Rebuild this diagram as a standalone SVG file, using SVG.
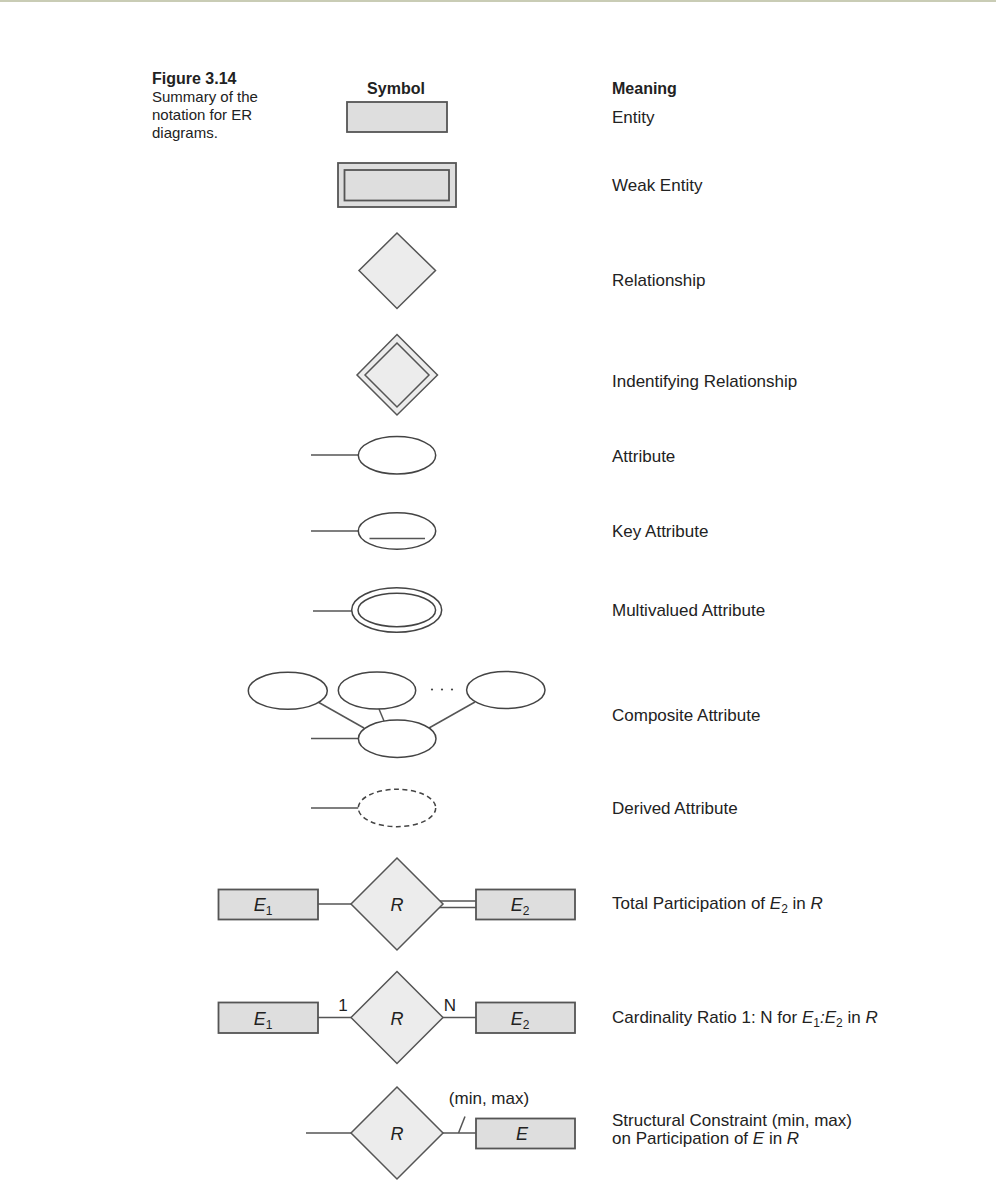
<svg xmlns="http://www.w3.org/2000/svg" width="996" height="1198" viewBox="0 0 996 1198">
<defs>
<style>
.ln{stroke:#555;stroke-width:1.5;fill:none}
.ent{fill:#dedede;stroke:#555;stroke-width:1.8}
.rel{fill:#ececec;stroke:#555;stroke-width:1.5}
.att{fill:#fff;stroke:#444;stroke-width:1.5}
.dash{fill:#fff;stroke:#444;stroke-width:1.5;stroke-dasharray:5 3.5}
text{font-family:"Liberation Sans",Arial,sans-serif;fill:#222}
.m{font-size:17px}
.n{font-size:17px}
.cap{font-size:15px}
.hd{font-size:16px;font-weight:bold}
.lab{font-size:18px;font-style:italic;text-anchor:middle}
.sub{font-size:12px}
</style>
</defs>
<rect x="0" y="0" width="996" height="2" fill="#c9ccb5"/>
<g id="caption">
<text x="152" y="84" class="hd">Figure 3.14</text>
<text x="152" y="102" class="cap">Summary of the</text>
<text x="152" y="120" class="cap">notation for ER</text>
<text x="152" y="138" class="cap">diagrams.</text>
</g>
<g id="headers">
<text x="396" y="94" class="hd" text-anchor="middle">Symbol</text>
<text x="612" y="94" class="hd">Meaning</text>
</g>
<g id="connectors">
<line class="ln" x1="311" y1="455" x2="358" y2="455"/>
<line class="ln" x1="311" y1="531" x2="358" y2="531"/>
<line class="ln" x1="313" y1="611" x2="352" y2="611"/>
<line class="ln" x1="318" y1="702" x2="364" y2="728"/>
<line class="ln" x1="379" y1="709" x2="384" y2="721"/>
<line class="ln" x1="475" y1="702" x2="429" y2="728"/>
<line class="ln" x1="311" y1="738.5" x2="358.5" y2="738.5"/>
<line class="ln" x1="311" y1="808" x2="358.5" y2="808"/>
<line class="ln" x1="318" y1="904" x2="351" y2="904"/>
<line class="ln" x1="439" y1="901" x2="476" y2="901"/>
<line class="ln" x1="439" y1="907.5" x2="476" y2="907.5"/>
<line class="ln" x1="318" y1="1017.5" x2="351" y2="1017.5"/>
<line class="ln" x1="443" y1="1017.5" x2="476" y2="1017.5"/>
<line class="ln" x1="306" y1="1133" x2="351" y2="1133"/>
<line class="ln" x1="443" y1="1133" x2="476" y2="1133"/>
<line class="ln" x1="458.5" y1="1133" x2="465" y2="1116.5"/>
</g>
<g id="entity"><rect class="ent" x="347" y="102" width="100" height="30"/></g>
<g id="weak-entity"><rect class="ent" x="338" y="163" width="118" height="44"/><rect class="ent" x="344.5" y="170" width="104.5" height="30.5"/></g>
<g id="relationship"><polygon class="rel" points="397,233 435.5,270.5 397,308.5 359,270.5"/></g>
<g id="identifying-relationship"><polygon class="rel" points="397,334.5 437.5,375 397,415 357,375"/><polygon class="rel" points="397,343 429,375 397,407 365,375"/></g>
<g id="attribute"><ellipse class="att" cx="397" cy="455.3" rx="38.7" ry="18.7"/></g>
<g id="key-attribute"><ellipse class="att" cx="397" cy="531" rx="38.7" ry="18.3"/><line class="ln" x1="369.5" y1="538.5" x2="425" y2="538.5"/></g>
<g id="multivalued-attribute"><ellipse class="att" cx="396.7" cy="610" rx="45" ry="22.3"/><ellipse class="att" cx="396.8" cy="610" rx="38.8" ry="16.7"/></g>
<g id="composite-attribute">
<ellipse class="att" cx="287.8" cy="690.8" rx="39.5" ry="18.5"/>
<ellipse class="att" cx="377" cy="690.5" rx="38.7" ry="18.5"/>
<ellipse class="att" cx="505.8" cy="690" rx="39.2" ry="18.5"/>
<ellipse class="att" cx="397.2" cy="738.7" rx="38.8" ry="18.7"/>
<circle cx="432" cy="689.5" r="1.1" fill="#444"/><circle cx="442" cy="689.5" r="1.1" fill="#444"/><circle cx="452" cy="689.5" r="1.1" fill="#444"/>
</g>
<g id="derived-attribute"><ellipse class="dash" cx="397" cy="808" rx="38.7" ry="18.7"/></g>
<g id="total-participation">
<rect class="ent" x="218.5" y="889.5" width="99.5" height="30"/>
<polygon class="rel" points="397,858 443,904 397,950 351,904"/>
<rect class="ent" x="476" y="889.5" width="99" height="30"/>
<text x="263" y="911" class="lab">E<tspan class="sub" dy="4" font-style="normal">1</tspan></text>
<text x="397" y="911" class="lab">R</text>
<text x="520" y="911" class="lab">E<tspan class="sub" dy="4" font-style="normal">2</tspan></text>
</g>
<g id="cardinality">
<rect class="ent" x="218.5" y="1002.5" width="99.5" height="30.5"/>
<polygon class="rel" points="397,971.5 443,1017.5 397,1063.5 351,1017.5"/>
<rect class="ent" x="476" y="1002.5" width="99" height="30.5"/>
<text x="263" y="1024.5" class="lab">E<tspan class="sub" dy="4" font-style="normal">1</tspan></text>
<text x="397" y="1024.5" class="lab">R</text>
<text x="520" y="1024.5" class="lab">E<tspan class="sub" dy="4" font-style="normal">2</tspan></text>
<text x="343" y="1011" class="n" text-anchor="middle">1</text>
<text x="450" y="1011" class="n" text-anchor="middle">N</text>
</g>
<g id="structural-constraint">
<polygon class="rel" points="397,1087 443,1133 397,1179 351,1133"/>
<rect class="ent" x="476" y="1118.5" width="99" height="30"/>
<text x="397" y="1140" class="lab">R</text>
<text x="522" y="1140" class="lab">E</text>
<text x="489" y="1104" class="n" text-anchor="middle">(min, max)</text>
</g>
<g id="meanings">
<text x="612" y="123" class="m">Entity</text>
<text x="612" y="191" class="m">Weak Entity</text>
<text x="612" y="286" class="m">Relationship</text>
<text x="612" y="387" class="m">Indentifying Relationship</text>
<text x="612" y="462" class="m">Attribute</text>
<text x="612" y="537" class="m">Key Attribute</text>
<text x="612" y="616" class="m">Multivalued Attribute</text>
<text x="612" y="721" class="m">Composite Attribute</text>
<text x="612" y="814" class="m">Derived Attribute</text>
<text x="612" y="909" class="m">Total Participation of <tspan font-style="italic">E</tspan><tspan class="sub" dy="4">2</tspan><tspan dy="-4"> in </tspan><tspan font-style="italic">R</tspan></text>
<text x="612" y="1023" class="m">Cardinality Ratio 1: N for <tspan font-style="italic">E</tspan><tspan class="sub" dy="4">1</tspan><tspan dy="-4" font-style="italic">:E</tspan><tspan class="sub" dy="4">2</tspan><tspan dy="-4"> in </tspan><tspan font-style="italic">R</tspan></text>
<text x="612" y="1126" class="m">Structural Constraint (min, max)</text>
<text x="612" y="1144" class="m">on Participation of <tspan font-style="italic">E</tspan> in <tspan font-style="italic">R</tspan></text>
</g>
</svg>
